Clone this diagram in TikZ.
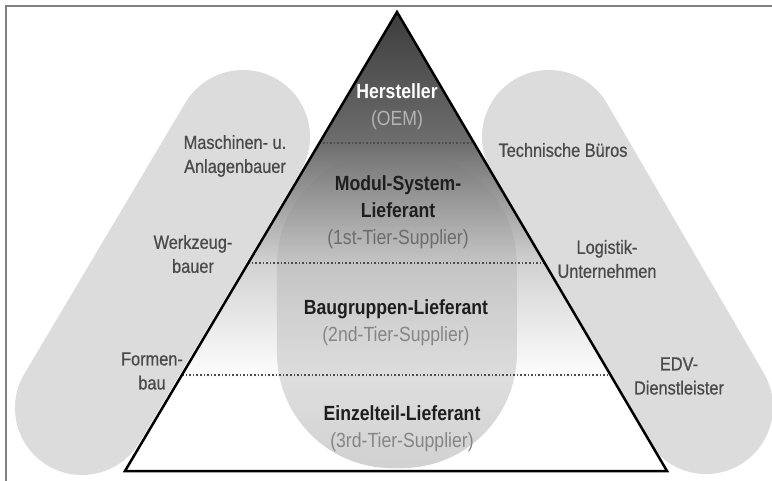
\documentclass[tikz,border=0pt]{standalone}
\usepackage{fontspec}
\setmainfont{Liberation Sans}[FakeStretch=0.86]
\newfontfamily\sidefont{Liberation Sans}[FakeStretch=0.86, FakeBold=0.6]
\usepackage{tikz}
\usetikzlibrary{calc,fadings}
\definecolor{sidegray}{HTML}{DCDCDC}
\definecolor{framegray}{HTML}{808080}
\definecolor{labelgray}{HTML}{4A4A4A}
\definecolor{tiergray}{HTML}{1E1E1E}
\definecolor{subgray}{HTML}{858585}
\definecolor{firstgray}{HTML}{6C6C6C}
\definecolor{oemgray}{HTML}{B4B4B4}
\definecolor{shadeA}{HTML}{3C3C3C}
\definecolor{shadeB}{HTML}{6E6E6E}
\definecolor{shadeC}{HTML}{D2D2D2}
\tikzfading[name=capfade, top color=transparent!100, middle color=transparent!0, bottom color=transparent!0]

\begin{document}
\begin{tikzpicture}[
  x=1pt, y=-1pt,
  tier/.style={align=center, inner sep=0pt, text=tiergray, font=\fontsize{20.5}{27}\selectfont},
  side/.style={align=center, inner sep=0pt, text=labelgray, font=\sidefont\fontsize{19}{24}\selectfont},
  band/.style={line width=134pt, line cap=round, sidegray},
  level/.style={dotted, line width=1.6pt, gray!60!black}
]
\useasboundingbox (0,0) rectangle (772,481);
\draw[framegray, line width=2pt] (6,481) -- (6,6) -- (772,6);
\coordinate (apex) at (397,12);
\coordinate (baseL) at (125,471);
\coordinate (baseR) at (667,471);
\draw[band] (243,137) -- (82,408);
\draw[band] (549,137) -- (706,407);
\begin{scope}
  \clip (apex) -- (baseL) -- (baseR) -- cycle;
  \shade[top color=shadeA, bottom color=shadeB] (100,11) rectangle (700,143);
  \shade[top color=shadeB, bottom color=shadeC] (100,143) rectangle (700,263);
  \shade[top color=shadeC, bottom color=white] (100,263) rectangle (700,380);
  \fill[white] (100,380) rectangle (700,472);
  \fill[black, fill opacity=0.18, path fading=capfade, rounded corners=115pt] (277,150) rectangle (517,468);
\end{scope}
\draw[level] ($(apex)!0.2854!(baseL)$) -- ($(apex)!0.2854!(baseR)$);
\draw[level] ($(apex)!0.5468!(baseL)$) -- ($(apex)!0.5468!(baseR)$);
\draw[level] ($(apex)!0.7908!(baseL)$) -- ($(apex)!0.7908!(baseR)$);
\draw[line width=2.5pt] (apex) -- (baseL) -- (baseR) -- cycle;
\node[tier, text=white] (oem) at (397,107) {\textbf{Hersteller}\\\textcolor{oemgray}{(OEM)}};
\node[tier] (first) at (398,212) {\textbf{Modul-System-}\\\textbf{Lieferant}\\\textcolor{firstgray}{(1st-Tier-Supplier)}};
\node[tier] (second) at (396,323) {\textbf{Baugruppen-Lieferant}\\\textcolor{subgray}{(2nd-Tier-Supplier)}};
\node[tier] (third) at (402,429) {\textbf{Einzelteil-Lieferant}\\\textcolor{subgray}{(3rd-Tier-Supplier)}};
\node[side] (machines) at (235,156) {Maschinen- u.\\Anlagenbauer};
\node[side] (tools) at (193,254) {Werkzeug-\\bauer};
\node[side] (moulds) at (152,371) {Formen-\\bau};
\node[side] (offices) at (563,150) {Technische Büros};
\node[side] (logistics) at (607,259) {Logistik-\\Unternehmen};
\node[side] (edp) at (679,376) {EDV-\\Dienstleister};
\end{tikzpicture}
\end{document}
